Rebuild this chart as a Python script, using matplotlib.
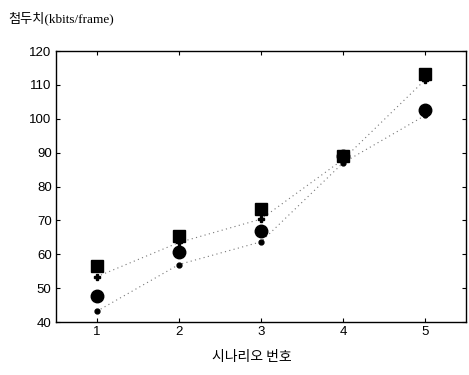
import matplotlib
matplotlib.use("Agg")
import matplotlib.pyplot as plt

scenarios = [1, 2, 3, 4, 5]
square_vals = [56.7, 65.5, 73.4, 89.0, 113.3]
plus_vals = [53.4, 63.5, 70.4, 88.0, 111.5]
circle_vals = [47.6, 60.8, 66.9, 88.9, 102.7]
dot_vals = [43.2, 57.0, 63.7, 87.0, 101.0]
yticks = [40, 50, 60, 70, 80, 90, 100, 110, 120]
title_text = "첨두치(kbits/frame)"
xlabel_text = "시나리오 번호"

fig = plt.figure(figsize=(4.69, 3.75), dpi=100)
ax = fig.add_axes([0.119, 0.141, 0.875, 0.723])

ax.plot(scenarios, plus_vals, linestyle=(0, (1, 3)), color="#777777", linewidth=0.8,
        marker="P", markersize=4.5, markerfacecolor="black", markeredgecolor="black")
ax.plot(scenarios, dot_vals, linestyle=(0, (1, 3)), color="#777777", linewidth=0.8,
        marker="o", markersize=3.5, markerfacecolor="black", markeredgecolor="black")
ax.plot(scenarios, square_vals, linestyle="none", marker="s", markersize=8,
        color="black")
ax.plot(scenarios, circle_vals, linestyle="none", marker="o", markersize=9,
        color="black")

ax.set_xlim(0.5, 5.5)
ax.set_ylim(40, 120)
ax.set_xticks(scenarios)
ax.set_yticks(yticks)
for lbl in ax.get_xticklabels() + ax.get_yticklabels():
    lbl.set_family("Liberation Sans")
    lbl.set_fontsize(9.5)
ax.tick_params(direction="in", length=3, width=0.8, top=True, right=True, pad=3)
for sp in ax.spines.values():
    sp.set_linewidth(1.0)

fig.text(0.017, 0.952, title_text, family=["Liberation Serif", "Noto Sans CJK KR"],
         fontsize=9.5, ha="left", va="center")
fig.text(0.537, 0.048, xlabel_text, family=["Noto Sans CJK KR"],
         fontsize=10, ha="center", va="center")

fig.savefig("out.png", dpi=100)
